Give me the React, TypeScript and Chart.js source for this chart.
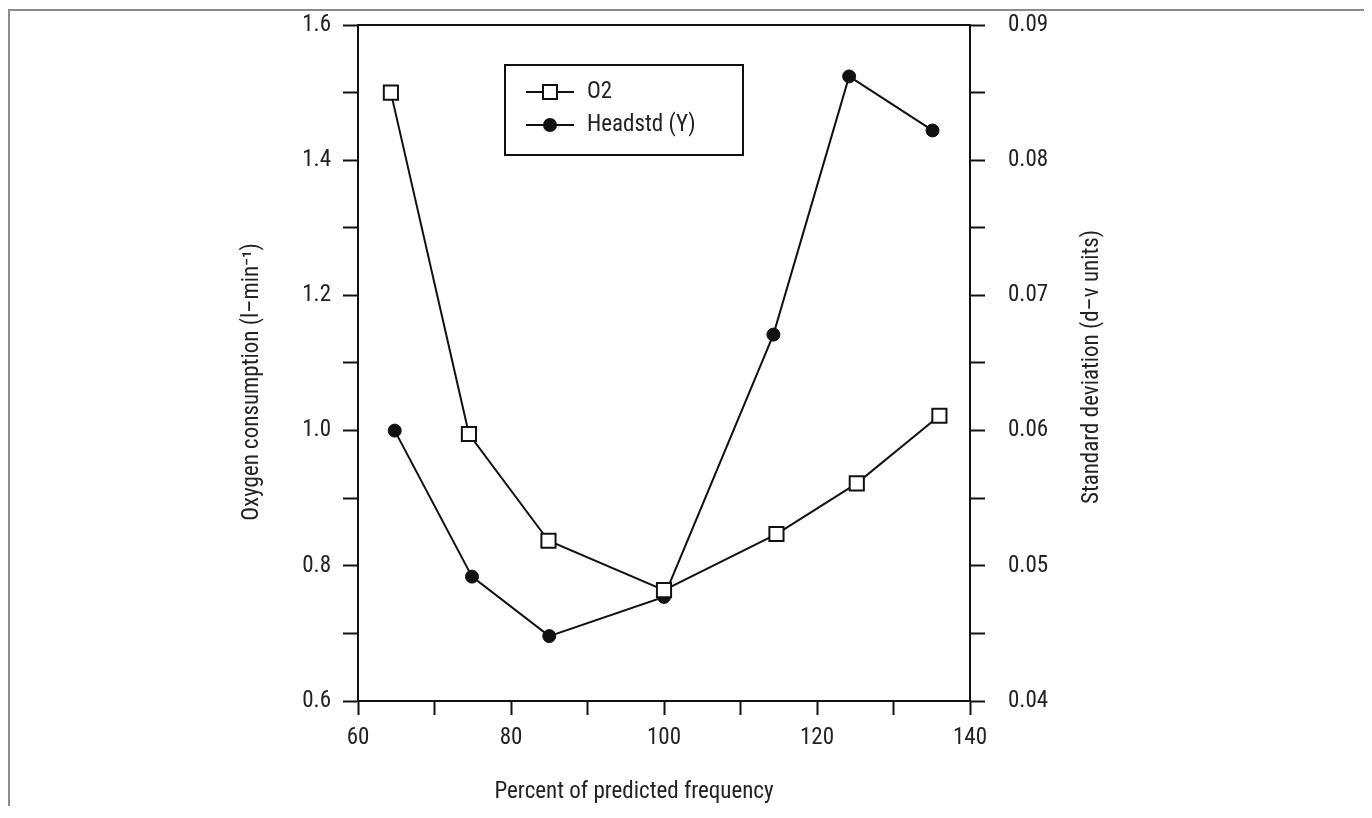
import { Chart, registerables } from 'chart.js';
import { useEffect, useRef } from 'react';

Chart.register(...registerables);

// Percent of predicted frequency, read per series (markers sit slightly apart)
const o2Freq = [64.3, 74.5, 84.9, 100, 114.7, 125.2, 136];
const headFreq = [64.8, 74.9, 85, 100, 114.3, 124.2, 135.1];
// Oxygen consumption (l-min-1), left axis
const o2Values = [1.5, 0.995, 0.837, 0.764, 0.847, 0.922, 1.022];
// Standard deviation (d-v units), right axis
const headValues = [0.06, 0.0492, 0.0448, 0.0477, 0.0671, 0.0862, 0.0822];

const seriesLabels = ['O2', 'Headstd (Y)'];
const xTitle = 'Percent of predicted frequency';
const yTitle = 'Oxygen consumption (l–min⁻¹)';
const y1Title = 'Standard deviation (d–v units)';

const FONT = "'Liberation Sans Narrow', 'Roboto Condensed', 'DejaVu Sans Condensed', sans-serif";
const INK = '#111';
const TEXT = '#222';
const FONT_SIZE = 23;

const overlay = {
  id: 'overlay',
  afterDraw(chart: any) {
    const { ctx, chartArea: a } = chart;
    ctx.save();

    // closing top line of the frame
    ctx.strokeStyle = INK;
    ctx.lineWidth = 2;
    ctx.beginPath();
    ctx.moveTo(a.left - 1, a.top);
    ctx.lineTo(a.right + 1, a.top);
    ctx.stroke();

    // axis titles
    ctx.fillStyle = TEXT;
    ctx.font = `${FONT_SIZE}px ${FONT}`;
    ctx.textAlign = 'center';
    ctx.textBaseline = 'middle';
    const midY = (a.top + a.bottom) / 2;
    const midX = (a.left + a.right) / 2;

    ctx.fillText(xTitle, midX - 30, a.bottom + 91);

    ctx.save();
    ctx.translate(a.left - 106, midY + 19);
    ctx.rotate(-Math.PI / 2);
    ctx.fillText(yTitle, 0, 0);
    ctx.restore();

    ctx.save();
    ctx.translate(a.right + 122, midY + 4);
    ctx.rotate(-Math.PI / 2);
    ctx.fillText(y1Title, 0, 0);
    ctx.restore();

    // legend box
    const bx = a.left + 147;
    const by = a.top + 40;
    ctx.fillStyle = '#fff';
    ctx.fillRect(bx, by, 238, 90);
    ctx.strokeStyle = INK;
    ctx.lineWidth = 2;
    ctx.strokeRect(bx, by, 238, 90);

    const rows = [by + 27, by + 60];
    rows.forEach((ry, i) => {
      ctx.strokeStyle = INK;
      ctx.lineWidth = 2;
      ctx.beginPath();
      ctx.moveTo(bx + 21, ry);
      ctx.lineTo(bx + 69, ry);
      ctx.stroke();
      if (i === 0) {
        ctx.fillStyle = '#fff';
        ctx.fillRect(bx + 38, ry - 7, 14, 14);
        ctx.strokeRect(bx + 38, ry - 7, 14, 14);
      } else {
        ctx.fillStyle = INK;
        ctx.beginPath();
        ctx.arc(bx + 45, ry, 7, 0, Math.PI * 2);
        ctx.fill();
      }
      ctx.fillStyle = TEXT;
      ctx.textAlign = 'left';
      ctx.fillText(seriesLabels[i], bx + 82, ry);
    });

    ctx.restore();
  },
};

const tickFont = { family: FONT, size: FONT_SIZE };

// fixed scale boxes so the plot frame lands where the reference has it
const fitY = (w: number) => (s: any) => {
  s.width = w;
  s.paddingTop = 0;
  s.paddingBottom = 0;
};

const App: React.FC = () => {
  const canvasRef = useRef<HTMLCanvasElement | null>(null);
  const chartRef = useRef<Chart | null>(null);

  useEffect(() => {
    if (!canvasRef.current) return;
    chartRef.current = new Chart(canvasRef.current, {
      type: 'line',
      data: {
        datasets: [
          {
            label: seriesLabels[0],
            data: o2Freq.map((x, i) => ({ x, y: o2Values[i] })),
            yAxisID: 'y',
            borderColor: INK,
            borderWidth: 2,
            pointStyle: 'rect',
            pointRadius: 10,
            pointBackgroundColor: '#fff',
            pointBorderColor: INK,
            pointBorderWidth: 2,
            tension: 0,
          },
          {
            label: seriesLabels[1],
            data: headFreq.map((x, i) => ({ x, y: headValues[i] })),
            yAxisID: 'y1',
            borderColor: INK,
            borderWidth: 2,
            pointStyle: 'circle',
            pointRadius: 6.5,
            pointBackgroundColor: INK,
            pointBorderColor: INK,
            pointBorderWidth: 1,
            tension: 0,
          },
        ],
      },
      options: {
        responsive: true,
        maintainAspectRatio: false,
        animation: false,
        layout: { padding: { top: 14, left: 0, right: 0, bottom: 0 } },
        plugins: {
          legend: { display: false },
          tooltip: { enabled: false },
        },
        scales: {
          x: {
            type: 'linear',
            min: 60,
            max: 140,
            afterFit: (s: any) => {
              s.height = 117;
              s.paddingLeft = 0;
              s.paddingRight = 0;
            },
            border: { color: INK, width: 2 },
            grid: { drawOnChartArea: false, tickLength: 14, tickColor: INK, tickWidth: 2 },
            ticks: {
              stepSize: 10,
              autoSkip: false,
              maxRotation: 0,
              padding: 9,
              color: TEXT,
              font: tickFont,
              callback: (v: any) => (Math.round(v) % 20 === 0 ? String(v) : ''),
            },
          },
          y: {
            position: 'left',
            min: 0.6,
            max: 1.6,
            afterFit: fitY(348),
            border: { color: INK, width: 2 },
            grid: { drawOnChartArea: false, tickLength: 15, tickColor: INK, tickWidth: 2 },
            ticks: {
              stepSize: 0.1,
              autoSkip: false,
              padding: 12,
              color: TEXT,
              font: tickFont,
              callback: (v: any) => (Math.round(v * 10) % 2 === 0 ? Number(v).toFixed(1) : ''),
            },
          },
          y1: {
            position: 'right',
            min: 0.04,
            max: 0.09,
            afterFit: fitY(394),
            border: { color: INK, width: 2 },
            grid: { drawOnChartArea: false, tickLength: 15, tickColor: INK, tickWidth: 2 },
            ticks: {
              stepSize: 0.005,
              autoSkip: false,
              padding: 23,
              color: TEXT,
              font: tickFont,
              callback: (v: any) => (Math.round(v * 1000) % 10 === 0 ? Number(v).toFixed(2) : ''),
            },
          },
        },
      },
      plugins: [overlay],
    });
    return () => {
      if (chartRef.current) {
        chartRef.current.destroy();
        chartRef.current = null;
      }
    };
  }, []);

  return (
    <div
      style={{
        marginTop: 1,
        marginBottom: -12,
        width: 1354,
        height: 807,
        border: '2px solid #8c8c8c',
        borderBottom: 'none',
        background: '#fff',
      }}
    >
      <div style={{ position: 'relative', width: '100%', height: '100%' }}>
        <canvas ref={canvasRef} />
      </div>
    </div>
  );
};

export default App;
